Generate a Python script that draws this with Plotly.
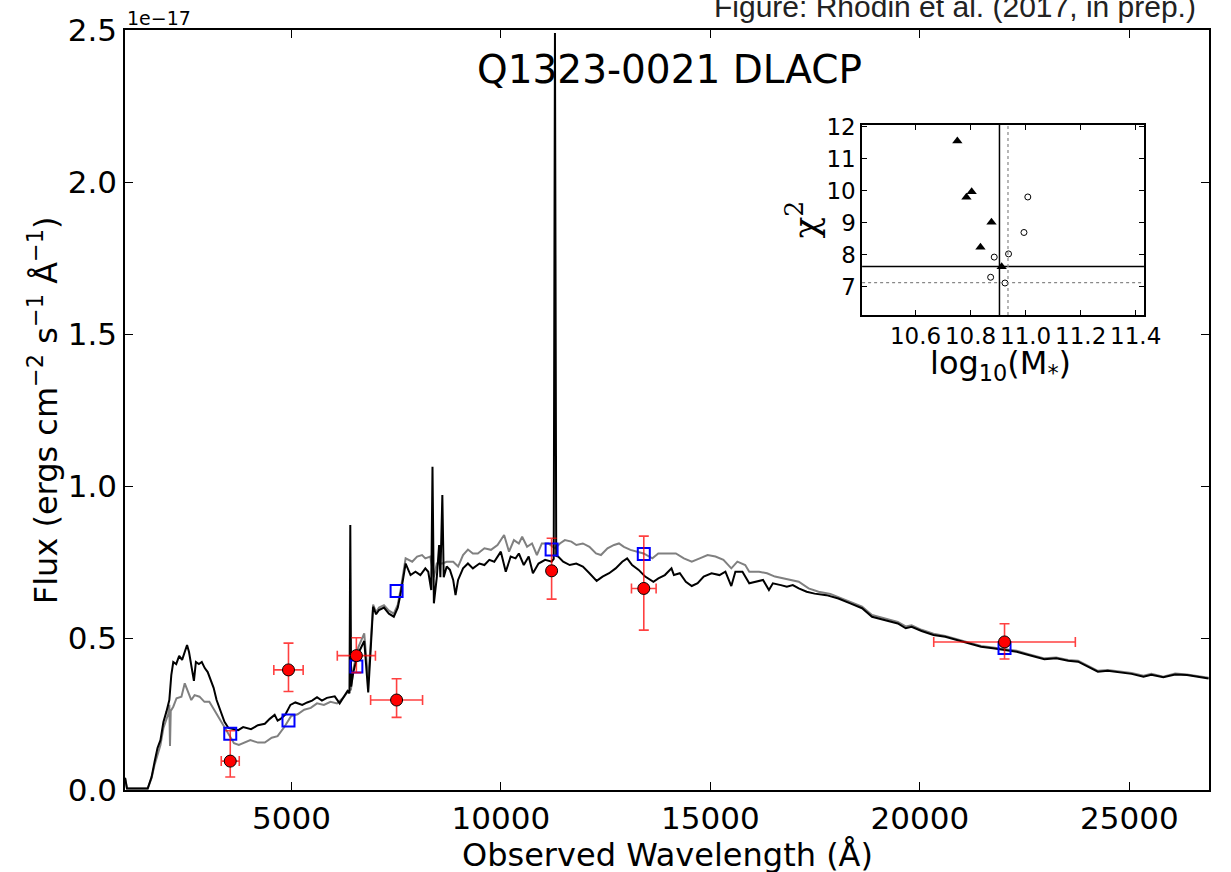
import plotly.graph_objects as go

# ---------------- data (flux in units of 1e-17 erg/cm2/s/A) ----------------
wave_black = [1030, 1075, 1570, 1663, 1733, 1804, 1874, 1945, 2015, 2086, 2133, 2180, 2250, 2321, 2391, 2462, 2509, 2556, 2603, 2673, 2720, 2791, 2861, 2932, 3002, 3073, 3143, 3214, 3308, 3402, 3496, 3613, 3731, 3848, 4036, 4200, 4365, 4483, 4600, 4670, 4741, 4859, 4976, 5094, 5258, 5376, 5493, 5611, 5728, 5846, 5963, 6034, 6151, 6245, 6339, 6386, 6405, 6425, 6480, 6598, 6738, 6833, 6950, 7021, 7091, 7209, 7326, 7444, 7538, 7608, 7726, 7843, 7961, 8078, 8196, 8266, 8337, 8367, 8400, 8470, 8525, 8555, 8602, 8635, 8706, 8783, 8861, 8917, 8978, 9096, 9213, 9331, 9488, 9606, 9723, 9841, 9998, 10116, 10233, 10350, 10428, 10546, 10663, 10764, 10898, 11055, 11211, 11260, 11290, 11320, 11368, 11486, 11643, 11798, 11956, 12113, 12285, 12426, 12583, 12738, 12896, 13013, 13131, 13288, 13443, 13640, 13758, 13913, 14071, 14129, 14270, 14414, 14555, 14696, 14839, 15027, 15217, 15358, 15499, 15596, 15765, 15927, 16068, 16256, 16397, 16491, 16681, 16825, 16966, 17109, 17297, 17487, 17769, 18054, 18338, 18620, 18857, 19189, 19473, 19661, 19802, 20040, 20324, 20606, 20890, 21175, 21459, 21741, 22025, 22310, 22594, 22972, 23254, 23539, 23776, 24011, 24248, 24483, 24768, 25052, 25336, 25524, 25809, 26091, 26375, 26659, 26890]
flux_black = [0.040, 0.005, 0.005, 0.043, 0.092, 0.138, 0.164, 0.224, 0.257, 0.296, 0.378, 0.421, 0.414, 0.441, 0.428, 0.454, 0.477, 0.454, 0.411, 0.359, 0.421, 0.414, 0.421, 0.401, 0.388, 0.362, 0.336, 0.296, 0.257, 0.224, 0.204, 0.201, 0.197, 0.207, 0.200, 0.213, 0.218, 0.234, 0.247, 0.228, 0.234, 0.249, 0.280, 0.288, 0.280, 0.288, 0.294, 0.305, 0.294, 0.303, 0.305, 0.308, 0.285, 0.305, 0.326, 0.318, 0.872, 0.340, 0.390, 0.450, 0.490, 0.321, 0.603, 0.578, 0.592, 0.600, 0.580, 0.570, 0.600, 0.647, 0.745, 0.707, 0.718, 0.707, 0.729, 0.718, 0.658, 1.063, 0.614, 0.700, 0.806, 0.700, 0.970, 0.700, 0.735, 0.724, 0.691, 0.641, 0.691, 0.729, 0.745, 0.729, 0.745, 0.740, 0.757, 0.751, 0.784, 0.718, 0.768, 0.762, 0.778, 0.740, 0.768, 0.713, 0.745, 0.757, 0.751, 0.760, 2.490, 0.770, 0.768, 0.751, 0.740, 0.745, 0.735, 0.713, 0.688, 0.702, 0.713, 0.729, 0.751, 0.762, 0.740, 0.724, 0.702, 0.685, 0.696, 0.707, 0.729, 0.707, 0.713, 0.685, 0.671, 0.680, 0.702, 0.713, 0.707, 0.718, 0.671, 0.718, 0.718, 0.680, 0.685, 0.691, 0.658, 0.680, 0.674, 0.669, 0.674, 0.663, 0.652, 0.646, 0.641, 0.630, 0.614, 0.598, 0.570, 0.559, 0.548, 0.532, 0.537, 0.523, 0.510, 0.504, 0.493, 0.483, 0.471, 0.466, 0.461, 0.455, 0.444, 0.430, 0.433, 0.425, 0.422, 0.406, 0.389, 0.392, 0.386, 0.382, 0.373, 0.379, 0.371, 0.380, 0.378, 0.373, 0.367]

wave_gray = [1030, 1075, 1570, 1663, 1733, 1804, 1874, 1945, 2015, 2060, 2086, 2102, 2120, 2180, 2258, 2375, 2454, 2532, 2610, 2689, 2806, 2924, 3041, 3159, 3276, 3394, 3511, 3629, 3746, 3864, 4020, 4200, 4365, 4530, 4670, 4835, 4991, 5148, 5305, 5462, 5611, 5775, 5932, 6088, 6245, 6362, 6420, 6480, 6598, 6738, 6833, 6950, 7021, 7091, 7209, 7326, 7444, 7538, 7608, 7726, 7883, 8000, 8118, 8196, 8313, 8400, 8470, 8600, 8706, 8861, 8978, 9096, 9213, 9331, 9449, 9606, 9763, 9919, 10076, 10194, 10311, 10428, 10507, 10624, 10742, 10859, 10977, 11133, 11290, 11408, 11526, 11682, 11800, 11956, 12113, 12270, 12388, 12544, 12700, 12818, 12935, 13092, 13249, 13405, 13615, 13756, 13994, 14176, 14367, 14555, 14745, 14933, 15121, 15311, 15499, 15643, 15831, 15927, 16162, 16352, 16540, 16730, 16919, 17109, 17344, 17581, 17863, 18054, 18338, 18620, 18857, 19189, 19473, 19661, 19802, 20040, 20324, 20606, 20890, 21175, 21459, 21741, 22025, 22310, 22594, 22972, 23254, 23539, 23776, 24011, 24248, 24483, 24768, 25052, 25336, 25524, 25809, 26091, 26375, 26659, 26890]
flux_gray = [0.040, 0.005, 0.005, 0.040, 0.082, 0.120, 0.148, 0.204, 0.230, 0.250, 0.280, 0.145, 0.260, 0.274, 0.302, 0.307, 0.351, 0.323, 0.296, 0.312, 0.307, 0.290, 0.290, 0.263, 0.236, 0.208, 0.181, 0.154, 0.148, 0.154, 0.164, 0.156, 0.156, 0.172, 0.177, 0.208, 0.243, 0.249, 0.264, 0.270, 0.285, 0.280, 0.290, 0.285, 0.305, 0.326, 0.330, 0.400, 0.470, 0.515, 0.360, 0.610, 0.585, 0.600, 0.608, 0.590, 0.580, 0.610, 0.660, 0.762, 0.751, 0.768, 0.773, 0.762, 0.768, 0.700, 0.745, 0.745, 0.751, 0.751, 0.735, 0.773, 0.791, 0.778, 0.778, 0.795, 0.790, 0.806, 0.839, 0.784, 0.822, 0.811, 0.833, 0.800, 0.811, 0.773, 0.811, 0.811, 0.795, 0.811, 0.822, 0.817, 0.806, 0.811, 0.800, 0.778, 0.773, 0.795, 0.806, 0.811, 0.800, 0.790, 0.784, 0.778, 0.762, 0.778, 0.778, 0.778, 0.762, 0.751, 0.762, 0.773, 0.768, 0.757, 0.729, 0.751, 0.740, 0.718, 0.718, 0.713, 0.702, 0.696, 0.691, 0.685, 0.663, 0.652, 0.645, 0.635, 0.620, 0.603, 0.576, 0.564, 0.553, 0.538, 0.542, 0.527, 0.514, 0.507, 0.496, 0.486, 0.474, 0.469, 0.464, 0.458, 0.447, 0.433, 0.436, 0.428, 0.425, 0.409, 0.392, 0.395, 0.389, 0.385, 0.376, 0.382, 0.373, 0.383, 0.380, 0.375, 0.369]

phot_wave = [3540, 4930, 6550, 7510, 11210, 13410, 22020]
phot_wave_err = [215, 350, 455, 620, 0, 294, 1690]
phot_flux = [0.095, 0.395, 0.442, 0.296, 0.721, 0.663, 0.487]
phot_err_up = [0.100, 0.088, 0.059, 0.070, 0.107, 0.172, 0.060]
phot_err_down = [0.052, 0.071, 0.056, 0.057, 0.093, 0.137, 0.056]
model_phot = [0.185, 0.229, 0.406, 0.655, 0.791, 0.776, 0.467]

# inset: chi^2 vs stellar mass
tri_mass = [10.752, 10.785, 10.804, 10.876, 10.836, 10.913]
tri_chi2 = [11.55, 9.79, 9.96, 9.01, 8.23, 7.62]
circ_mass = [10.886, 10.873, 10.925, 10.938, 10.994, 11.008]
circ_chi2 = [7.92, 7.29, 7.11, 8.02, 8.69, 9.80]
best_mass, best_chi2 = 10.905, 7.63
alt_mass, alt_chi2 = 10.936, 7.12

FONT = "DejaVu Sans"
fig = go.Figure()

fig.add_trace(go.Scatter(x=wave_gray, y=flux_gray, mode="lines",
                         line=dict(color="#808080", width=2), showlegend=False))
fig.add_trace(go.Scatter(x=wave_black, y=flux_black, mode="lines",
                         line=dict(color="black", width=2), showlegend=False))
fig.add_trace(go.Scatter(x=phot_wave, y=model_phot, mode="markers",
                         marker=dict(symbol="square-open", size=12, color="blue",
                                     line=dict(color="blue", width=2)),
                         showlegend=False))
fig.add_trace(go.Scatter(
    x=phot_wave, y=phot_flux, mode="markers",
    marker=dict(symbol="circle", size=12, color="red", line=dict(color="black", width=1)),
    error_y=dict(type="data", symmetric=False, array=phot_err_up, arrayminus=phot_err_down,
                 color="rgba(255,0,0,0.75)", thickness=1.6, width=5),
    error_x=dict(type="data", array=phot_wave_err, color="rgba(255,0,0,0.75)",
                 thickness=1.6, width=5),
    showlegend=False))

# inset traces
fig.add_trace(go.Scatter(x=tri_mass, y=tri_chi2, mode="markers", xaxis="x2", yaxis="y2",
                         marker=dict(symbol="triangle-up", size=9, color="black"),
                         showlegend=False))
fig.add_trace(go.Scatter(x=circ_mass, y=circ_chi2, mode="markers", xaxis="x2", yaxis="y2",
                         marker=dict(symbol="circle-open", size=6, color="black",
                                     line=dict(width=1, color="black")),
                         showlegend=False))

shapes = [
    dict(type="line", xref="x2", yref="y2 domain", x0=best_mass, x1=best_mass, y0=0, y1=1,
         line=dict(color="black", width=1.5)),
    dict(type="line", xref="x2 domain", yref="y2", x0=0, x1=1, y0=best_chi2, y1=best_chi2,
         line=dict(color="black", width=1.5)),
    dict(type="line", xref="x2", yref="y2 domain", x0=alt_mass, x1=alt_mass, y0=0, y1=1,
         line=dict(color="#888888", width=1.2, dash="dot")),
    dict(type="line", xref="x2 domain", yref="y2", x0=0, x1=1, y0=alt_chi2, y1=alt_chi2,
         line=dict(color="#888888", width=1.2, dash="dot")),
]

def A(text, x, y, size, family=FONT, angle=0, xanchor="center", yanchor="middle", color="black"):
    return dict(text=text, xref="paper", yref="paper", x=x, y=y, xanchor=xanchor,
                yanchor=yanchor, textangle=angle, showarrow=False,
                font=dict(family=family, size=size, color=color))

ann = [
    A("Q1323-0021 DLACP", 0.502, 0.9474, 39),
    A("1e\u221217", 0.0, 1.0158, 19, xanchor="left"),
    A("Figure: Rhodin et al. (2017, in prep.)", 0.990, 1.0066, 30,
      family="Liberation Sans", xanchor="right", yanchor="bottom", color="#222222"),
    A("Flux (ergs cm<sup>\u22122</sup> s<sup>\u22121</sup> \u00c5<sup>\u22121</sup>)",
      -0.0754, 0.5, 32, angle=-90),
    A("Observed Wavelength (\u00c5)", 0.5, -0.0855, 32),
    A("log<sub>10</sub>(M<sub>*</sub>)", 0.808, 0.559, 32),
    A("\u03c7<sup>2</sup>", 0.625, 0.75, 36, family="DejaVu Serif", angle=-90),
]

axis_common = dict(showline=True, linecolor="black", linewidth=1.5, mirror="ticks",
                   ticks="inside", tickcolor="black", showgrid=False, zeroline=False)

fig.update_layout(
    width=1231, height=872,
    margin=dict(l=125, r=5, t=30, b=82),
    paper_bgcolor="white", plot_bgcolor="white",
    xaxis=dict(range=[1028, 26900], tick0=0, dtick=5000, tickformat="d", ticklen=8,
               tickfont=dict(family=FONT, size=31, color="black"), **axis_common),
    yaxis=dict(range=[0, 2.5], dtick=0.5, tickformat=".1f", ticklen=8,
               tickfont=dict(family=FONT, size=31, color="black"), **axis_common),
    xaxis2=dict(domain=[0.680, 0.940], anchor="y2", range=[10.406, 11.43],
                tickvals=[10.6, 10.8, 11.0, 11.2, 11.4], ticktext=["10.6", "10.8", "11.0", "11.2", "11.4"],
                ticklen=5, tickfont=dict(family=FONT, size=23, color="black"), **axis_common),
    yaxis2=dict(domain=[0.625, 0.875], anchor="x2", range=[6.11, 12.05],
                tickvals=[7, 8, 9, 10, 11, 12], ticklen=5,
                tickfont=dict(family=FONT, size=23, color="black"), **axis_common),
    shapes=shapes,
    annotations=ann,
    showlegend=False,
)

fig.write_html("out.html")
